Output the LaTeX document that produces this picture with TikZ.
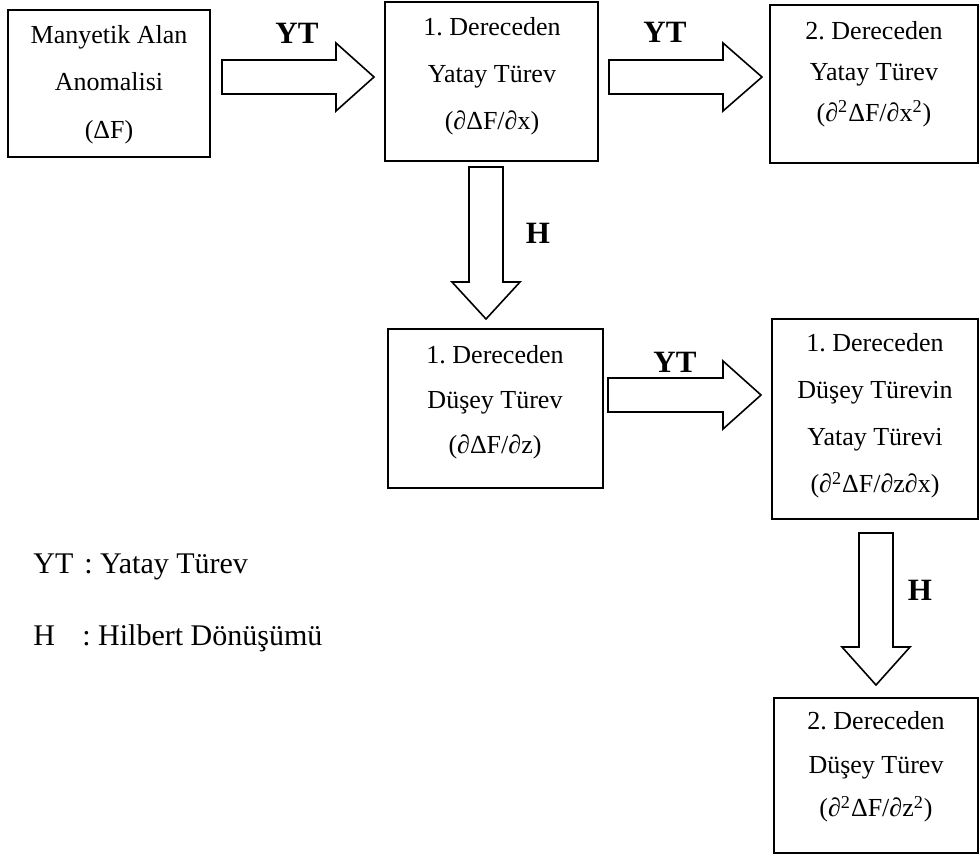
\documentclass[tikz,border=0pt]{standalone}
\usepackage{fontspec}
\setmainfont{Liberation Serif}
\usetikzlibrary{fit}
\frenchspacing
\begin{document}
\begin{tikzpicture}[x=0.5pt,y=-0.5pt,
  box/.style={draw, line width=1pt, inner sep=0pt},
  txt/.style={align=center, inner sep=0pt, font=\fontsize{13pt}{#1}\selectfont},
  txt/.default=23pt,
  barrow/.style={draw, line width=0.8pt, fill=white, line join=miter},
  lbl/.style={font=\fontsize{15.5pt}{18pt}\selectfont\bfseries, inner sep=0pt},
  leg/.style={font=\fontsize{15pt}{18pt}\selectfont, inner sep=0pt, anchor=base west}]
\useasboundingbox (0,0) rectangle (979,858);

% boxes
\node[box, fit={(8,10) (210,157)}] (b1) {};
\node[box, fit={(385,2) (598,161)}] (b2) {};
\node[box, fit={(770,5) (978,163)}] (b3) {};
\node[box, fit={(388,329) (603,488)}] (b4) {};
\node[box, fit={(772,319) (978,519)}] (b5) {};
\node[box, fit={(774,698) (978,853)}] (b6) {};

% texts
\node[txt=23.75pt] (t1) at (109,84.5) {Manyetik Alan\\Anomalisi\\(ΔF)};
\node[txt=23.5pt] (t2) at (492,76) {1. Dereceden\\Yatay Türev\\(∂ΔF/∂x)};
\node[txt=20.5pt] (t3) at (874,74) {2. Dereceden\\Yatay Türev\\(∂\textsuperscript{2}ΔF/∂x\textsuperscript{2})};
\node[txt=22.5pt] (t4) at (495,402) {1. Dereceden\\Düşey Türev\\(∂ΔF/∂z)};
\node[txt=23.5pt] (t5) at (875,416) {1. Dereceden\\Düşey Türevin\\Yatay Türevi\\(∂\textsuperscript{2}ΔF/∂z∂x)};
\node[txt=21.75pt] (t6) at (876,767) {2. Dereceden\\Düşey Türev\\(∂\textsuperscript{2}ΔF/∂z\textsuperscript{2})};

% block arrows
\draw[barrow] (222,60) -- (336,60) -- (336,43) -- (374,77) -- (336,111) -- (336,94) -- (222,94) -- cycle;
\draw[barrow] (609,60) -- (723,60) -- (723,43) -- (762,77) -- (723,111) -- (723,94) -- (609,94) -- cycle;
\draw[barrow] (608,378) -- (723,378) -- (723,361) -- (761,395) -- (723,429) -- (723,412) -- (608,412) -- cycle;
\draw[barrow] (469,167) -- (469,282) -- (452,282) -- (486,319) -- (520,282) -- (503,282) -- (503,167) -- cycle;
\draw[barrow] (859,533) -- (859,647) -- (842,647) -- (876,685) -- (910,647) -- (893,647) -- (893,533) -- cycle;

% arrow labels
\node[lbl] (yt1) at (297,33) {YT};
\node[lbl] (yt2) at (665,32) {YT};
\node[lbl] (yt3) at (675,362) {YT};
\node[lbl] (h1) at (538,233) {H};
\node[lbl] (h2) at (920,590) {H};

% legend
\node[leg] (k1) at (33,573) {YT};
\node[leg] (v1) at (84,573) {: Yatay Türev};
\node[leg] (k2) at (33,645) {H};
\node[leg] (v2) at (82,645) {: Hilbert Dönüşümü};
\end{tikzpicture}
\end{document}
